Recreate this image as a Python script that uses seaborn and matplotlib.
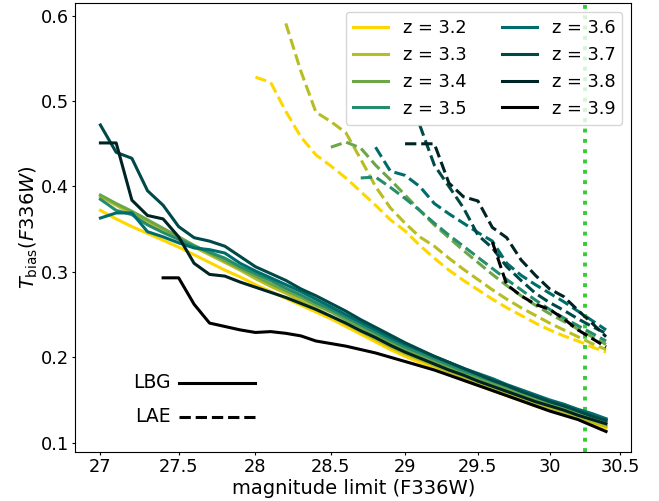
import numpy as np
import pandas as pd
import matplotlib
matplotlib.use("Agg")
import matplotlib.pyplot as plt
from matplotlib.lines import Line2D
from matplotlib.ticker import FuncFormatter, FixedLocator, NullLocator
import seaborn as sns

redshifts = [3.2, 3.3, 3.4, 3.5, 3.6, 3.7, 3.8, 3.9]

# magnitude grids (0.1 mag steps)
mag_lbg = np.round(np.arange(27.0, 30.41, 0.1), 1)
mag_lae = np.round(np.arange(28.0, 30.41, 0.1), 1)

N = None
lbg_32 = [0.372, 0.362, 0.353, 0.345, 0.337, 0.329, 0.320, 0.311, 0.302, 0.294, 0.285, 0.277, 0.269, 0.261, 0.253, 0.245, 0.236, 0.227, 0.218, 0.209, 0.201, 0.194, 0.187, 0.180, 0.173, 0.167, 0.161, 0.155, 0.149, 0.143, 0.138, 0.133, 0.128, 0.122, 0.117]
lbg_33 = [0.388, 0.378, 0.368, 0.358, 0.348, 0.339, 0.329, 0.320, 0.311, 0.302, 0.292, 0.283, 0.275, 0.266, 0.257, 0.248, 0.239, 0.230, 0.221, 0.212, 0.204, 0.197, 0.190, 0.183, 0.176, 0.170, 0.164, 0.158, 0.152, 0.146, 0.140, 0.135, 0.130, 0.124, 0.119]
lbg_34 = [0.390, 0.380, 0.371, 0.361, 0.351, 0.341, 0.331, 0.322, 0.313, 0.304, 0.295, 0.286, 0.278, 0.270, 0.261, 0.253, 0.244, 0.235, 0.226, 0.217, 0.209, 0.202, 0.195, 0.188, 0.181, 0.175, 0.169, 0.163, 0.157, 0.151, 0.145, 0.140, 0.134, 0.129, 0.124]
lbg_35 = [0.385, 0.372, 0.367, 0.355, 0.346, 0.338, 0.330, 0.323, 0.316, 0.306, 0.298, 0.290, 0.281, 0.273, 0.264, 0.256, 0.247, 0.238, 0.229, 0.220, 0.212, 0.205, 0.198, 0.191, 0.184, 0.178, 0.172, 0.166, 0.160, 0.154, 0.148, 0.143, 0.138, 0.132, 0.127]
lbg_36 = [0.363, 0.369, 0.369, 0.347, 0.341, 0.334, 0.328, 0.326, 0.322, 0.310, 0.301, 0.293, 0.285, 0.277, 0.268, 0.259, 0.250, 0.241, 0.232, 0.223, 0.215, 0.208, 0.201, 0.194, 0.187, 0.181, 0.175, 0.168, 0.162, 0.156, 0.150, 0.145, 0.139, 0.134, 0.128]
lbg_37 = [0.472, 0.440, 0.433, 0.395, 0.378, 0.353, 0.340, 0.336, 0.330, 0.318, 0.306, 0.298, 0.290, 0.280, 0.272, 0.263, 0.254, 0.244, 0.235, 0.226, 0.217, 0.209, 0.201, 0.194, 0.187, 0.180, 0.173, 0.167, 0.160, 0.154, 0.148, 0.143, 0.137, 0.131, 0.126]
lbg_38 = [0.451, 0.451, 0.384, 0.366, 0.362, 0.341, 0.310, 0.297, 0.295, 0.288, 0.282, 0.276, 0.270, 0.263, 0.256, 0.248, 0.240, 0.231, 0.223, 0.214, 0.206, 0.199, 0.192, 0.185, 0.179, 0.172, 0.166, 0.160, 0.154, 0.148, 0.143, 0.138, 0.132, 0.127, 0.122]
lbg_39 = [N, N, N, N, 0.293, 0.293, 0.262, 0.240, 0.236, 0.232, 0.229, 0.230, 0.228, 0.225, 0.219, 0.216, 0.213, 0.209, 0.205, 0.200, 0.195, 0.190, 0.185, 0.179, 0.173, 0.167, 0.161, 0.155, 0.149, 0.143, 0.137, 0.132, 0.127, 0.120, 0.113]

lae_32 = [0.528, 0.522, 0.488, 0.458, 0.437, 0.424, 0.410, 0.394, 0.378, 0.361, 0.348, 0.331, 0.316, 0.302, 0.290, 0.279, 0.268, 0.258, 0.249, 0.240, 0.232, 0.225, 0.219, 0.212, 0.206]
lae_33 = [N, N, 0.591, 0.535, 0.487, 0.476, 0.463, 0.432, 0.400, 0.375, 0.357, 0.341, 0.330, 0.316, 0.303, 0.291, 0.279, 0.268, 0.258, 0.249, 0.240, 0.232, 0.224, 0.216, 0.209]
lae_34 = [N, N, N, N, N, 0.446, 0.452, 0.445, 0.425, 0.408, 0.390, 0.372, 0.355, 0.340, 0.325, 0.311, 0.297, 0.284, 0.272, 0.261, 0.251, 0.242, 0.233, 0.224, 0.215]
lae_35 = [N, N, N, N, N, N, N, 0.410, 0.411, 0.399, 0.386, 0.372, 0.357, 0.343, 0.330, 0.317, 0.304, 0.291, 0.279, 0.267, 0.256, 0.246, 0.237, 0.228, 0.219]
lae_36 = [N, N, N, N, N, N, N, N, 0.446, 0.418, 0.413, 0.400, 0.380, 0.368, 0.357, 0.346, 0.336, 0.310, 0.296, 0.285, 0.275, 0.265, 0.254, 0.243, 0.232]
lae_37 = [N, N, N, N, N, N, N, N, N, N, N, 0.472, 0.425, 0.400, 0.375, 0.343, 0.328, 0.306, 0.290, 0.275, 0.264, 0.255, 0.245, 0.236, 0.228]
lae_38 = [N, N, N, N, N, N, N, N, N, N, 0.450, 0.450, 0.450, 0.404, 0.388, 0.383, 0.352, 0.340, 0.314, 0.296, 0.280, 0.271, 0.255, 0.240, 0.224]
lae_39 = [N, N, N, N, N, N, N, N, N, N, N, N, N, N, N, N, 0.335, 0.285, 0.272, 0.262, 0.256, 0.245, 0.232, 0.222, 0.212]

lbg_series = [lbg_32, lbg_33, lbg_34, lbg_35, lbg_36, lbg_37, lbg_38, lbg_39]
lae_series = [lae_32, lae_33, lae_34, lae_35, lae_36, lae_37, lae_38, lae_39]

xtick_values = [27, 27.5, 28, 28.5, 29, 29.5, 30, 30.5]
mag_cut = 30.25
key_x = [27.5, 28.0]
key_y = {"LBG": 0.17, "LAE": 0.13}
key_text_x = 27.45

rows = []
for z, vals in zip(redshifts, lbg_series):
    for m, v in zip(mag_lbg, vals):
        if v is not None:
            rows.append(dict(z=z, mag=m, T=v, kind="LBG"))
for z, vals in zip(redshifts, lae_series):
    for m, v in zip(mag_lae, vals):
        if v is not None:
            rows.append(dict(z=z, mag=m, T=v, kind="LAE"))
df = pd.DataFrame(rows)

FS = 12.8
plt.rcParams["font.family"] = ["DejaVu Sans"]
plt.rcParams["mathtext.fontset"] = "dejavusans"

palette = sns.blend_palette(["gold", "teal", "black"], len(redshifts))

fig, ax = plt.subplots(figsize=(6.59, 5.01), dpi=100)
fig.subplots_adjust(left=0.114, right=0.958, bottom=0.098, top=0.994)
ax.set_xscale("log")

LW = 2.2
for i, z in enumerate(redshifts):
    d = df[(df.z == z) & (df.kind == "LBG")]
    sns.lineplot(data=d, x="mag", y="T", ax=ax, color=palette[i], lw=LW,
                 legend=False, estimator=None, sort=True)
for i, z in enumerate(redshifts):
    d = df[(df.z == z) & (df.kind == "LAE")]
    sns.lineplot(data=d, x="mag", y="T", ax=ax, color=palette[i], lw=LW,
                 legend=False, estimator=None, sort=True)
    ax.lines[-1].set_linestyle("--")

ax.axvline(mag_cut, color="limegreen", ls=":", lw=2.8, zorder=1)

# key for sample type
ax.plot(key_x, [key_y["LBG"]] * 2, color="black", lw=LW, ls="-")
ax.plot(key_x, [key_y["LAE"]] * 2, color="black", lw=LW, ls="--")
ax.text(key_text_x, key_y["LBG"], "LBG", ha="right", va="center", fontsize=13.5)
ax.text(key_text_x, key_y["LAE"], "LAE", ha="right", va="center", fontsize=13.5)

handles = [Line2D([], [], color=palette[i], lw=LW) for i in range(len(redshifts))]
labels = [f"z = {z}" for z in redshifts]
ax.legend(handles, labels, loc="upper right", ncol=2, fontsize=FS)

ax.set_xlabel("magnitude limit (F336W)", fontsize=14, labelpad=2)
ax.set_ylabel(r"$T_{\rm bias}(F336W)$", fontsize=14, labelpad=0.5)
ax.xaxis.set_major_locator(FixedLocator(xtick_values))
ax.xaxis.set_minor_locator(NullLocator())
ax.xaxis.set_major_formatter(FuncFormatter(lambda v, p: f"{v:g}"))
ax.tick_params(labelsize=FS, length=2.5, pad=2)

fig.savefig("out.png", dpi=100)
